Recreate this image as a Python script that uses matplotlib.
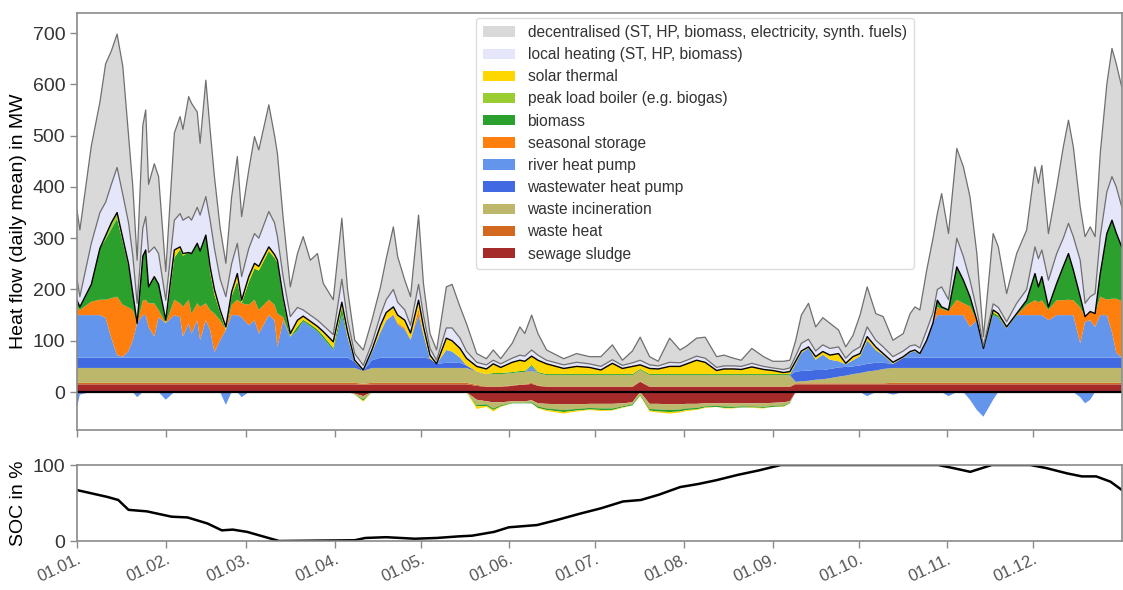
import numpy as np
import matplotlib.pyplot as plt
from matplotlib.patches import Patch

plt.rcParams['font.family'] = ['Liberation Sans', 'DejaVu Sans']

# day of year at the sampled points (read at visible turning points)
day = [
    0, 1, 5, 8, 10, 12, 14, 16, 18, 19.5, 21, 23, 24, 25, 27, 28.5, 31, 34, 36, 37,
    39, 40, 42, 43, 45, 46.5, 48, 50, 52, 54, 56, 57.5, 60, 62, 63.5, 67, 69, 70, 72, 74.5,
    77, 79, 81.5, 84, 86, 89.5, 92.5,
    94.5, 97, 100, 103, 106, 108, 110.5, 112, 114.5, 116.5, 119.3, 121, 123.3, 125.6, 129, 131,
    133.8, 136, 139.6, 143, 145.4, 148, 152, 154.7, 156.4, 158.8, 161, 164, 170, 174.5, 179,
    183, 187, 190.5, 194, 196.7, 200, 203, 207, 210.6, 213, 216.4, 219.4, 223.4, 226, 229.3,
    232, 235.7, 239.8, 243, 246.8, 249,
    251, 253, 255.5, 258, 260.5, 263, 266, 268.5, 271, 273.5, 276, 279, 281.6, 285, 288.6,
    291, 292.7, 294.4, 296.8,
    299, 300.5, 302, 304.4, 307.3, 309.6, 311.9, 314.3, 316.6, 320, 321.8, 324.7, 328.2,
    331.7, 334.6, 335.8, 337, 339.3, 342.2, 344.5, 346.3, 348, 350.4, 352.1, 353.9, 355.6,
    357.4, 359.7, 361.5, 363, 364.9,
]

# heat flows in MW (daily mean), positive part
sewage = [
    15, 15, 15, 15, 15, 15, 15, 15, 15, 15, 15, 15, 15, 15, 15, 15, 15, 15, 15, 15,
    15, 15, 15, 15, 15, 15, 15, 15, 15, 15, 15, 15, 15, 15, 15, 15, 15, 15, 15, 15,
    15, 15, 15, 15, 15, 15, 15,
    15, 15, 14, 15, 15, 15, 15, 15, 15, 15, 15, 15, 15, 15, 15, 15, 15, 15, 12, 10,
    10, 10, 12, 14, 14, 16, 12, 10, 10, 10, 10,
    10, 10, 10, 10, 20, 10, 10, 10, 10, 10, 10, 10, 10, 10, 10, 10, 10, 10, 10, 10, 10,
    15, 15, 15, 15, 15, 15, 15, 15, 15, 15, 15, 15, 15, 15, 15, 15, 15, 15, 15,
    15, 15, 15, 15, 15, 15, 15, 15, 15, 15, 15, 15, 15, 15, 15, 15, 15, 15, 15, 15,
    15, 15, 15, 15, 15, 15, 15, 15, 15, 15, 15,
]
waste_heat = [
    3, 3, 3, 3, 3, 3, 3, 3, 3, 3, 3, 3, 3, 3, 3, 3, 3, 3, 3, 3,
    3, 3, 3, 3, 3, 3, 3, 3, 3, 3, 3, 3, 3, 3, 3, 3, 3, 3, 3, 3,
    3, 3, 3, 3, 3, 3, 3,
    3, 3, 2, 3, 3, 3, 3, 3, 3, 3, 3, 3, 3, 3, 3, 3, 3, 3, 2, 1,
    1, 1, 1, 1, 1, 2, 1, 1, 1, 1, 1,
    1, 1, 1, 1, 1, 1, 1, 1, 1, 1, 1, 1, 1, 1, 1, 1, 1, 1, 1, 1, 1,
    2, 2, 2, 2, 2, 2, 2, 2, 2, 2, 2, 2, 2, 3, 3, 3, 3, 3, 3,
    3, 3, 3, 3, 3, 3, 3, 3, 3, 3, 3, 3, 3, 3, 3, 3, 3, 3, 3, 3,
    3, 3, 3, 3, 3, 3, 3, 3, 3, 3, 3,
]
incineration = [
    29, 29, 29, 29, 29, 29, 29, 29, 29, 29, 29, 29, 29, 29, 29, 29, 29, 29, 29, 29,
    29, 29, 29, 29, 29, 29, 29, 29, 29, 29, 29, 29, 29, 29, 29, 29, 29, 29, 29, 29,
    29, 29, 29, 29, 29, 29, 29,
    29, 29, 25, 29, 29, 29, 29, 29, 29, 29, 29, 29, 29, 29, 29, 29, 29, 29, 26, 24,
    24, 24, 24, 24, 24, 24, 24, 22, 22, 22, 22,
    22, 22, 22, 22, 22, 22, 22, 22, 22, 22, 22, 22, 22, 22, 22, 22, 22, 22, 22, 22, 22,
    3, 4, 5, 7, 8, 10, 13, 15, 18, 20, 23, 25, 28, 29, 29, 29, 29, 29, 29,
    29, 29, 29, 29, 29, 29, 29, 29, 29, 29, 29, 29, 29, 29, 29, 29, 29, 29, 29, 29,
    29, 29, 29, 29, 29, 29, 29, 29, 29, 29, 29,
]
wastewater_hp = [
    20, 20, 20, 20, 20, 20, 20, 20, 20, 20, 20, 20, 20, 20, 20, 20, 20, 20, 20, 20,
    20, 20, 20, 20, 20, 20, 20, 20, 20, 20, 20, 20, 20, 20, 20, 20, 20, 20, 20, 20,
    20, 20, 20, 20, 20, 20, 20,
    20, 12, 0, 15, 20, 20, 20, 20, 20, 20, 20, 20, 18, 8, 10, 10, 10, 5, 0, 0,
    0, 0, 0, 0, 0, 3, 0, 0, 0, 0, 0,
    0, 0, 0, 0, 0, 0, 0, 0, 0, 0, 0, 0, 0, 0, 0, 0, 0, 0, 0, 0, 0,
    20, 20, 20, 19, 18, 18, 18, 17, 15, 15, 15, 15, 12, 8, 20, 20, 20, 20, 20,
    20, 20, 20, 20, 20, 20, 20, 20, 20, 20, 20, 20, 20, 20, 20, 20, 20, 20, 20, 20,
    20, 20, 20, 20, 20, 20, 20, 20, 20, 20, 20,
]
river_hp = [
    83, 83, 83, 83, 78, 38, 5, 2, 13, 34, 67, 83, 83, 60, 41, 79, 67, 83, 79, 41,
    67, 47, 73, 34, 73, 54, 11, 34, 54, 83, 83, 79, 63, 73, 47, 83, 73, 21, 73, 41,
    53, 71, 61, 51, 38, 15, 83,
    40, 0, 0, 15, 50, 73, 83, 65, 55, 35, 83, 45, 0, 0, 25, 22, 10, 0, 0, 0,
    0, 0, 0, 0, 0, 6, 0, 0, 0, 0, 0,
    0, 0, 0, 0, 0, 0, 0, 0, 0, 0, 0, 0, 0, 0, 0, 0, 0, 0, 0, 0, 0,
    15, 35, 44, 20, 30, 18, 12, 5, 12, 18, 46, 25, 15, 0, 0, 10, 13, 6, 32,
    68, 83, 83, 83, 83, 83, 60, 73, 18, 83, 78, 57, 83, 83, 83, 83, 83, 73, 83, 83,
    83, 83, 28, 70, 73, 60, 83, 83, 50, 10, 0,
]
storage = [
    16, 10, 26, 30, 35, 78, 114, 101, 85, 59, 0, 28, 30, 46, 65, 14, 0, 30, 27, 58,
    46, 39, 33, 65, 33, 39, 75, 39, 0, 20, 30, 27, 40, 40, 46, 30, 30, 65, 6, 0,
    0, 0, 0, 0, 0, 0, 0,
    0, 0, 0, 0, 0, 0, 2, 3, 3, 0, 12, 0, 0, 0, 0, 0, 0, 0, 0, 0,
    0, 0, 0, 0, 0, 0, 0, 0, 0, 0, 0,
    0, 0, 0, 0, 0, 0, 0, 0, 0, 0, 0, 0, 0, 0, 0, 0, 0, 0, 0, 0, 0,
    0, 0, 0, 0, 0, 0, 0, 0, 0, 0, 0, 0, 0, 0, 0, 0, 0, 0, 0,
    0, 16, 12, 8, 30, 23, 40, 0, 0, 0, 0, 0, 0, 20, 29, 25, 29, 20, 29, 29,
    30, 29, 70, 10, 17, 26, 36, 30, 65, 105, 110,
]
biomass = [
    13, 6, 34, 100, 118, 135, 152, 122, 80, 32, 0, 87, 97, 32, 52, 50, 0, 82, 105, 100,
    92, 117, 117, 109, 133, 74, 37, 15, 0, 17, 36, 0, 45, 61, 77, 95, 92, 99, 33, 0,
    8, 3, 4, 4, 5, 4, 15,
    0, 0, 0, 0, 0, 0, 0, 0, 0, 0, 0, 0, 0, 0, 0, 0, 0, 0, 0, 0,
    2, 2, 2, 2, 2, 2, 2, 2, 2, 2, 2,
    2, 2, 2, 2, 2, 2, 2, 2, 2, 2, 2, 2, 2, 2, 2, 2, 2, 2, 2, 2, 2,
    0, 0, 0, 0, 0, 0, 0, 0, 0, 0, 0, 0, 0, 0, 0, 0, 0, 0, 0,
    0, 13, 4, 2, 62, 45, 19, 0, 0, 5, 4, 0, 3, 9, 52, 30, 46, 6, 33, 66,
    90, 59, 21, 0, 0, 0, 45, 129, 153, 128, 106,
]
peak_boiler = [
    0, 0, 0, 0, 7, 12, 12, 8, 5, 0, 0, 0, 0, 0, 0, 0, 0, 0, 0, 0,
    0, 0, 0, 0, 0, 0, 0, 0, 0, 0, 0, 0, 0, 0, 0, 0, 0, 0, 0, 0,
    0, 0, 0, 0, 0, 0, 0,
    0, 0, 0, 0, 0, 0, 0, 0, 0, 0, 0, 0, 0, 0, 0, 0, 0, 0, 0, 0,
    0, 0, 0, 0, 0, 0, 0, 0, 0, 0, 0,
    0, 0, 0, 0, 0, 0, 0, 0, 0, 0, 0, 0, 0, 0, 0, 0, 0, 0, 0, 0, 0,
    0, 0, 0, 0, 0, 0, 0, 0, 0, 0, 0, 0, 0, 0, 0, 0, 0, 0, 0,
    0, 0, 0, 0, 2, 0, 0, 0, 0, 0, 0, 0, 0, 0, 0, 0, 0, 0, 0, 0,
    0, 0, 0, 0, 0, 0, 0, 0, 0, 0, 0,
]
solar = [
    0, 0, 0, 0, 0, 0, 0, 0, 0, 0, 0, 0, 0, 0, 0, 0, 6, 15, 5, 4,
    0, 0, 0, 0, 0, 10, 10, 5, 6, 8, 15, 6, 10, 10, 8, 8, 6, 5, 6, 6,
    12, 7, 6, 6, 8, 12, 10,
    11, 3, 2, 5, 13, 15, 14, 15, 15, 13, 17, 16, 7, 0, 23, 21, 18, 14, 10, 10,
    18, 11, 19, 21, 19, 17, 23, 20, 11, 15, 13,
    8, 21, 11, 15, 8, 11, 10, 15, 15, 20, 27, 23, 7, 10, 10, 9, 14, 9, 7, 3, 5,
    5, 4, 2, 6, 6, 9, 15, 2, 7, 5, 7, 6, 3, 3, 2, 2, 2, 2, 2,
    0, 0, 0, 0, 0, 0, 0, 0, 0, 5, 4, 3, 0, 0, 0, 0, 0, 0, 0, 0,
    0, 0, 0, 0, 0, 0, 0, 0, 0, 0, 0,
]
local_heating = [
    41, 20, 80, 70, 65, 75, 88, 85, 80, 73, 39, 55, 65, 67, 58, 60, 39, 58, 65, 65,
    70, 65, 70, 70, 75, 91, 80, 60, 59, 55, 59, 46, 55, 58, 55, 69, 62, 46, 40, 33,
    25, 12, 12, 12, 12, 14, 45,
    22, 13, 9, 13, 20, 25, 34, 25, 20, 15, 31, 22, 13, 7, 20, 25, 20, 14, 8, 8,
    7, 7, 8, 10, 10, 12, 10, 7, 7, 8, 7,
    7, 7, 6, 7, 9, 7, 6, 8, 7, 7, 8, 8, 6, 6, 6, 6, 7, 6, 5, 6, 7,
    10, 15, 15, 11, 13, 13, 13, 10, 11, 13, 19, 13, 13, 11, 11, 11, 10, 11, 20,
    20, 21, 39, 20, 56, 46, 32, 20, 5, 12, 12, 10, 20, 21, 52, 55, 52, 52, 58, 55,
    59, 65, 71, 26, 29, 39, 72, 81, 85, 90, 78,
]
decentralised = [
    135, 130, 190, 215, 270, 260, 260, 250, 170, 135, 84, 200, 208, 133, 162, 150, 56, 170, 189, 177,
    234, 228, 186, 140, 227, 176, 140, 100, 65, 130, 169, 117, 153, 189, 172, 208, 170, 162, 115, 58,
    105, 143, 107, 130, 82, 68, 119,
    60, 26, 30, 45, 55, 80, 122, 89, 58, 56, 135, 62, 29, 20, 80, 85, 61, 54, 17, 12,
    20, 10, 29, 55, 44, 68, 42, 20, 12, 17, 14,
    19, 29, 10, 23, 45, 16, 9, 47, 25, 28, 35, 41, 21, 21, 15, 12, 29, 19, 13, 16, 15,
    30, 55, 70, 47, 53, 49, 33, 22, 30, 62, 78, 52, 59, 32, 34, 63, 74, 74, 117,
    145, 148, 182, 129, 175, 175, 163, 110, 18, 137, 118, 55, 97, 116, 156, 147, 165, 91, 130, 178,
    201, 175, 104, 130, 136, 111, 162, 210, 250, 240, 234,
]

# negative part (heat going into the seasonal storage)
sewage_neg = [
    0, 0, 0, 0, 0, 0, 0, 0, 0, 0, 0, 0, 0, 0, 0, 0, 0, 0, 0, 0,
    0, 0, 0, 0, 0, 0, 0, 0, 0, 0, 0, 0, 0, 0, 0, 0, 0, 0, 0, 0,
    0, 0, 0, 0, 0, 0, 0,
    0, -3, -8, 0, 0, 0, 0, 0, 0, 0, 0, 0, 0, 0, 0, 0, 0, 0, -15, -18,
    -20, -20, -18, -18, -18, -16, -22, -23, -24, -24, -23,
    -23, -23, -22, -20, 0, -23, -23, -24, -24, -23, -23, -22, -22, -22, -22, -22, -22, -22, -21, -20, -18,
    0, 0, 0, 0, 0, 0, 0, 0, 0, 0, 0, 0, 0, 0, 0, 0, 0, 0, 0,
    0, 0, 0, 0, 0, 0, 0, 0, 0, 0, 0, 0, 0, 0, 0, 0, 0, 0, 0, 0,
    0, 0, 0, 0, 0, 0, 0, 0, 0, 0, 0,
]
incineration_neg = [
    0, 0, 0, 0, 0, 0, 0, 0, 0, 0, 0, 0, 0, 0, 0, 0, 0, 0, 0, 0,
    0, 0, 0, 0, 0, 0, 0, 0, 0, 0, 0, 0, 0, 0, 0, 0, 0, 0, 0, 0,
    0, 0, 0, 0, 0, 0, 0,
    0, -2, -6, 0, 0, 0, 0, 0, 0, 0, 0, 0, 0, 0, 0, 0, 0, 0, -10, -6,
    -12, -6, -3, -3, -3, -4, -6, -9, -11, -9, -8,
    -9, -9, -6, -4, -5, -10, -11, -11, -10, -9, -8, -6, -5, -6, -7, -6, -6, -7, -6, -6, -3,
    0, 0, 0, 0, 0, 0, 0, 0, 0, 0, 0, 0, 0, 0, 0, 0, 0, 0, 0,
    0, 0, 0, 0, 0, 0, 0, 0, 0, 0, 0, 0, 0, 0, 0, 0, 0, 0, 0, 0,
    0, 0, 0, 0, 0, 0, 0, 0, 0, 0, 0,
]
river_hp_neg = [
    -30, -5, 0, 0, 0, 0, 0, 0, 0, 0, -10, 0, 0, 0, 0, 0, -15, 0, 0, 0,
    0, 0, 0, 0, 0, 0, 0, 0, -25, 0, 0, -10, 0, 0, 0, 0, 0, 0, 0, 0,
    0, 0, 0, 0, 0, 0, 0,
    0, 0, 0, 0, 0, 0, 0, 0, 0, 0, 0, 0, 0, 0, 0, 0, 0, 0, 0, 0,
    0, 0, 0, 0, 0, 0, 0, 0, 0, 0, 0,
    0, 0, 0, 0, 0, 0, 0, 0, 0, 0, 0, 0, 0, 0, 0, 0, 0, 0, 0, 0, 0,
    0, 0, 0, 0, 0, 0, 0, 0, 0, 0, -8, 0, 0, -5, 0, 0, 0, 0, 0,
    0, 0, 0, -8, 0, 0, -15, -35, -48, -15, 0, 0, 0, 0, 0, 0, 0, 0, 0, 0,
    0, 0, -10, -22, -15, 0, 0, 0, 0, 0, 0,
]
biomass_neg = [
    0, 0, 0, 0, 0, 0, 0, 0, 0, 0, 0, 0, 0, 0, 0, 0, 0, 0, 0, 0,
    0, 0, 0, 0, 0, 0, 0, 0, 0, 0, 0, 0, 0, 0, 0, 0, 0, 0, 0, 0,
    0, 0, 0, 0, 0, 0, 0,
    0, 0, -3, 0, 0, 0, 0, 0, 0, 0, 0, 0, 0, 0, 0, 0, 0, 0, -3, -3,
    -3, -2, -1, -1, -1, -2, -3, -3, -4, -3, -3,
    -3, -3, -2, -2, -2, -3, -4, -4, -4, -3, -3, -2, -2, -3, -2, -2, -2, -2, -2, -2, -1,
    0, 0, 0, 0, 0, 0, 0, 0, 0, 0, 0, 0, 0, 0, 0, 0, 0, 0, 0,
    0, 0, 0, 0, 0, 0, 0, 0, 0, 0, 0, 0, 0, 0, 0, 0, 0, 0, 0, 0,
    0, 0, 0, 0, 0, 0, 0, 0, 0, 0, 0,
]
solar_neg = [
    0, 0, 0, 0, 0, 0, 0, 0, 0, 0, 0, 0, 0, 0, 0, 0, 0, 0, 0, 0,
    0, 0, 0, 0, 0, 0, 0, 0, 0, 0, 0, 0, 0, 0, 0, 0, 0, 0, 0, 0,
    0, 0, 0, 0, 0, 0, 0,
    0, 0, -2, 0, 0, 0, 0, 0, 0, 0, 0, 0, 0, 0, 0, 0, 0, 0, -5, -2,
    -3, -1, 0, 0, 0, 0, -1, -2, -3, -2, -1,
    -2, -1, -1, 0, -1, -2, -2, -3, -2, -2, -1, -1, 0, -1, -1, 0, -1, -1, 0, -1, 0,
    0, 0, 0, 0, 0, 0, 0, 0, 0, 0, 0, 0, 0, 0, 0, 0, 0, 0, 0,
    0, 0, 0, 0, 0, 0, 0, 0, 0, 0, 0, 0, 0, 0, 0, 0, 0, 0, 0, 0,
    0, 0, 0, 0, 0, 0, 0, 0, 0, 0, 0,
]

# state of charge of the seasonal storage in %
soc_day = [0, 10.6, 14.4, 18, 24.4, 33, 38.6, 45.6, 50.6, 54.4, 59.4, 70.6, 97, 100.7, 108,
           118, 125.7, 133, 138, 145.7, 150.8, 160.7, 168, 175.7, 183, 190.7, 197, 203.3,
           210.7, 217, 223.3, 230.8, 238.3, 245.8, 273, 300.8, 306, 312, 319.5, 333, 338.5,
           345.8, 351, 356, 361, 365]
soc = [67, 58, 54, 41, 39, 32, 31, 23, 14, 15, 12, 0, 1, 4, 5, 3, 4, 6, 7, 12, 18, 21, 28,
       36, 43, 52, 54, 61, 71, 75, 80, 87, 93, 100, 100, 100, 96, 91, 100, 100, 96, 89, 85,
       85, 78, 67]

month_start = [0, 31, 59, 90, 120, 151, 181, 212, 243, 273, 304, 334]
month_labels = ['01.01.', '01.02.', '01.03.', '01.04.', '01.05.', '01.06.',
                '01.07.', '01.08.', '01.09.', '01.10.', '01.11.', '01.12.']

labels = ['sewage sludge', 'waste heat', 'waste incineration', 'wastewater heat pump',
          'river heat pump', 'seasonal storage', 'biomass', 'peak load boiler (e.g. biogas)',
          'solar thermal', 'local heating (ST, HP, biomass)',
          'decentralised (ST, HP, biomass, electricity, synth. fuels)']
colors = ['#a52a2a', '#d2691e', '#bdb76b', '#4169e1', '#6495ed', '#ff7f0e', '#2ca02c',
          '#9acd32', '#ffd700', '#e6e6fa', '#d9d9d9']

x = np.array(day)
pos = np.array([sewage, waste_heat, incineration, wastewater_hp, river_hp, storage,
                biomass, peak_boiler, solar, local_heating, decentralised], dtype=float)
neg = np.array([sewage_neg, incineration_neg, river_hp_neg, biomass_neg, solar_neg], dtype=float)
neg_colors = ['#a52a2a', '#bdb76b', '#6495ed', '#2ca02c', '#ffd700']
for arr in pos:
    assert len(arr) == len(x)
for arr in neg:
    assert len(arr) == len(x)

spine_col = '#8a8a8a'
text_col = '#333333'

fig = plt.figure(figsize=(11.23, 5.9), dpi=100)
ax = fig.add_axes([77 / 1123, 1 - 430 / 590, 1045 / 1123, 417 / 590])
ax2 = fig.add_axes([77 / 1123, 1 - 541 / 590, 1045 / 1123, 76 / 590])

ax.stackplot(x, pos, colors=colors, linewidth=0)
ax.stackplot(x, neg, colors=neg_colors, linewidth=0)

cum = np.cumsum(pos, axis=0)
ax.plot(x, cum[8], color='black', lw=1.0)
ax.plot(x, cum[9], color='#6f6f6f', lw=0.9)
ax.plot(x, cum[10], color='#6f6f6f', lw=0.9)
ax.axhline(0, color='black', lw=1.6)

ax.set_xlim(0, 365)
ax.set_ylim(-74, 739)
ax.set_yticks(range(0, 701, 100))
ax.set_xticks(month_start)
ax.set_xticklabels([])
ax.set_ylabel('Heat flow (daily mean) in MW', fontsize=14, color='black')

handles = [Patch(facecolor=c, edgecolor='none') for c in colors[::-1]]
leg = ax.legend(handles, labels[::-1], loc='upper left', bbox_to_anchor=(0.382, 0.988),
                borderaxespad=0, fontsize=11.2, frameon=True, fancybox=True,
                handlelength=2.05, handleheight=0.65, borderpad=0.45, labelspacing=0.46,
                labelcolor=text_col)
leg.get_frame().set_edgecolor('#dddddd')
leg.get_frame().set_alpha(1.0)

ax2.plot(soc_day, soc, color='black', lw=1.8)
ax2.set_xlim(0, 365)
ax2.set_ylim(0, 100)
ax2.set_yticks([0, 100])
ax2.set_xticks(month_start)
ax2.set_xticklabels(month_labels, rotation=25, ha='right', rotation_mode='anchor')
ax2.set_ylabel('SOC in %', fontsize=14, color='black')

for a in (ax, ax2):
    for s in a.spines.values():
        s.set_color(spine_col)
        s.set_linewidth(1.2)
    a.tick_params(axis='both', colors=spine_col, labelcolor=text_col, labelsize=14,
                  length=5, width=1.0, direction='out')
ax2.tick_params(axis='x', labelsize=12, labelcolor='#555555', pad=3)

fig.savefig('out.png', dpi=100)
